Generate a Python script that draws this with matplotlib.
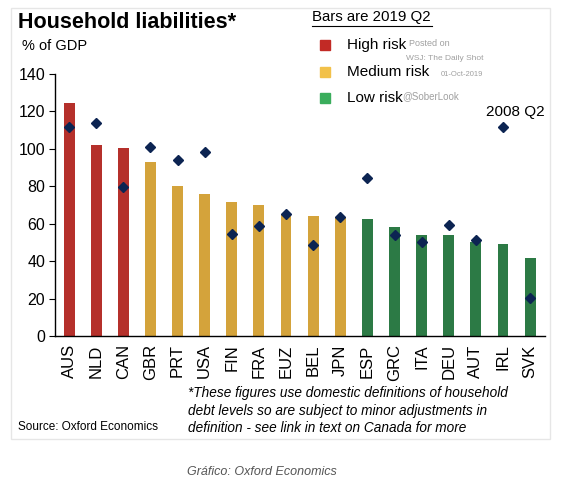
import numpy as np
import matplotlib.pyplot as plt
from matplotlib.patches import Rectangle

plt.rcParams['font.family'] = ['Liberation Sans', 'DejaVu Sans']

countries = ['AUS', 'NLD', 'CAN', 'GBR', 'PRT', 'USA', 'FIN', 'FRA', 'EUZ',
             'BEL', 'JPN', 'ESP', 'GRC', 'ITA', 'DEU', 'AUT', 'IRL', 'SVK']
risk = ['high'] * 3 + ['medium'] * 8 + ['low'] * 7
bars_2019q2 = [124.3, 101.9, 100.6, 93.0, 80.0, 75.7, 71.8, 69.8, 65.0,
               64.3, 63.8, 62.7, 58.4, 53.8, 53.8, 50.4, 49.3, 41.7]
dots_2008q2 = [111.7, 113.8, 79.8, 101.0, 94.0, 98.3, 54.5, 58.8, 65.4,
               48.8, 63.8, 84.6, 53.8, 50.2, 59.5, 51.5, 111.7, 20.5]

bar_colors = {'high': '#b5302b', 'medium': '#d4a33b', 'low': '#2c7a45'}
legend_colors = {'high': '#c22a25', 'medium': '#f2c14a', 'low': '#3aad5c'}
legend_labels = {'high': 'High risk', 'medium': 'Medium risk', 'low': 'Low risk'}

footnote = ['*These figures use domestic definitions of household',
            'debt levels so are subject to minor adjustments in',
            'definition - see link in text on Canada for more']

fig = plt.figure(figsize=(5.62, 4.83), dpi=100)
fig.patch.set_facecolor('white')

# faint frame around the chart
fig.patches.append(Rectangle((11 / 562, 1 - 439 / 483), 539 / 562, 431 / 483,
                             transform=fig.transFigure, fill=False,
                             edgecolor='#e6e6e6', linewidth=1))

ax = fig.add_axes([55 / 562, 1 - 336 / 483, 490 / 562, 262 / 483])
x = np.arange(len(countries))
ax.bar(x, bars_2019q2, width=0.4, color=[bar_colors[r] for r in risk], zorder=2)
ax.plot(x, dots_2008q2, linestyle='none', marker='D', markersize=5.5,
        color='#0c2452', zorder=3)

ax.set_xlim(-0.52, 17.55)
ax.set_ylim(0, 140)
ax.set_yticks(range(0, 141, 20))
ax.set_xticks(x)
ax.set_xticklabels(countries, rotation=90, fontsize=12)
ax.tick_params(axis='y', labelsize=11.5, length=4, direction='out', pad=3)
ax.tick_params(axis='x', length=0, pad=6)
for s in ['top', 'right']:
    ax.spines[s].set_visible(False)
ax.spines['left'].set_linewidth(1)
ax.spines['bottom'].set_linewidth(1)

# titles
fig.text(18 / 562, 1 - 23 / 483, 'Household liabilities*', fontsize=15.5,
         fontweight='bold', va='center', ha='left')
fig.text(22 / 562, 1 - 46 / 483, '% of GDP', fontsize=10.5, va='center')
fig.text(312 / 562, 1 - 17 / 483, 'Bars are 2019 Q2', fontsize=10.8,
         va='center', ha='left')
fig.add_artist(plt.Line2D([312 / 562, 432 / 562], [1 - 26 / 483, 1 - 26 / 483],
                          transform=fig.transFigure, color='black', linewidth=0.8))

# legend
for i, r in enumerate(['high', 'medium', 'low']):
    yy = 1 - (45 + i * 26.5) / 483
    fig.patches.append(Rectangle((320 / 562, yy - 5 / 483), 10 / 562, 10 / 483,
                                 transform=fig.transFigure,
                                 color=legend_colors[r]))
    fig.text(347 / 562, yy, legend_labels[r], fontsize=11, va='center')

# watermark
wm = '#a0a0a0'
fig.text(409 / 562, 1 - 43 / 483, 'Posted on', fontsize=6.5, color=wm, va='center')
fig.text(483 / 562, 1 - 59 / 483, 'WSJ: The Daily Shot', fontsize=6, color=wm,
         va='center', ha='right')
fig.text(483 / 562, 1 - 75 / 483, '01-Oct-2019', fontsize=5.5, color=wm,
         va='center', ha='right')
fig.text(402 / 562, 1 - 96 / 483, '@SoberLook', fontsize=7, color=wm, va='center')

fig.text(545 / 562, 1 - 112 / 483, '2008 Q2', fontsize=11, va='center', ha='right')

# footnotes
for i, line in enumerate(footnote):
    fig.text(188 / 562, 1 - (393 + i * 17.5) / 483, line, fontsize=9.8,
             style='italic', va='center', ha='left')
fig.text(18 / 562, 1 - 427 / 483, 'Source: Oxford Economics', fontsize=8.5,
         va='center')
fig.text(262 / 562, 1 - 472 / 483, 'Gráfico: Oxford Economics', fontsize=9,
         style='italic', color='#555555', va='center', ha='center')

fig.savefig('out.png', dpi=100)
